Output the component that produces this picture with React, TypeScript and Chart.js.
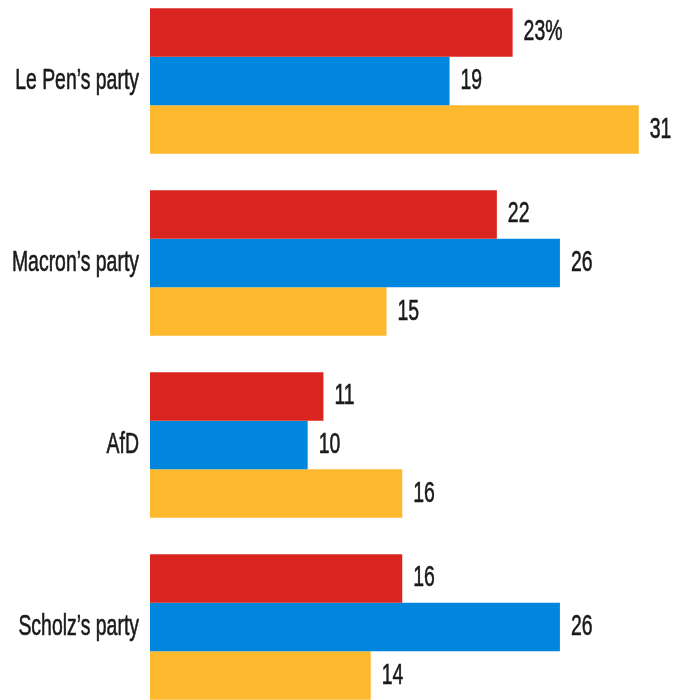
import React, { useEffect, useRef } from "react";
import { Chart, registerables } from "chart.js";

Chart.register(...registerables);

const categories = ["Le Pen\u2019s party", "Macron\u2019s party", "AfD", "Scholz\u2019s party"];
const seriesRed = [23, 22, 11, 16];
const seriesBlue = [19, 26, 10, 26];
const seriesOrange = [31, 15, 16, 14];
const firstLabelSuffix = "%";

const FONT = "'Liberation Sans', Arial, sans-serif";
const FONT_SIZE = 29;
const SQUEEZE = 0.67;
const TEXT_COLOR = "#1a1a1a";

export default function App() {
  const ref = useRef<HTMLCanvasElement | null>(null);

  useEffect(() => {
    if (!ref.current) return;
    const drawText = (ctx: any, txt: string, x: number, y: number, align: string) => {
      ctx.save();
      ctx.translate(x, y);
      ctx.scale(SQUEEZE, 1);
      ctx.textAlign = align;
      ctx.fillText(txt, 0, 0);
      ctx.strokeText(txt, 0, 0);
      ctx.restore();
    };
    const textPlugin = {
      id: "textPlugin",
      afterDatasetsDraw(chart: any) {
        const ctx = chart.ctx;
        const yScale = chart.scales.y;
        const left = chart.chartArea.left;
        ctx.save();
        ctx.font = `${FONT_SIZE}px ${FONT}`;
        ctx.fillStyle = TEXT_COLOR;
        ctx.strokeStyle = TEXT_COLOR;
        ctx.lineWidth = 0.6;
        ctx.textBaseline = "middle";
        categories.forEach((lab, i) => {
          drawText(ctx, lab, left - 11, yScale.getPixelForValue(i), "right");
        });
        chart.data.datasets.forEach((ds: any, di: number) => {
          const meta = chart.getDatasetMeta(di);
          meta.data.forEach((el: any, i: number) => {
            const v = ds.data[i];
            const txt = String(v) + (di === 0 && i === 0 ? firstLabelSuffix : "");
            drawText(ctx, txt, el.x + 11, el.y, "left");
          });
        });
        ctx.restore();
      },
    };
    const chart = new Chart(ref.current, {
      type: "bar",
      data: {
        labels: categories,
        datasets: [
          { data: seriesRed, backgroundColor: "#d9241f" },
          { data: seriesBlue, backgroundColor: "#0086dc" },
          { data: seriesOrange, backgroundColor: "#fdb92e" },
        ],
      },
      options: {
        indexAxis: "y",
        responsive: false,
        animation: false,
        devicePixelRatio: 1,
        layout: { padding: { left: 150, right: 0, top: 0, bottom: 0 } },
        datasets: { bar: { categoryPercentage: 0.8, barPercentage: 1, borderWidth: 0 } },
        plugins: { legend: { display: false }, tooltip: { enabled: false } },
        scales: {
          x: { display: false, min: 0, max: 33.3 },
          y: { display: false, offset: true },
        },
      },
      plugins: [textPlugin],
    } as any);
    return () => chart.destroy();
  }, []);

  return (
    <div
      style={{
        position: "fixed",
        left: 0,
        top: 0,
        width: 675,
        height: 700,
        overflow: "hidden",
        background: "#fff",
      }}
    >
      <canvas
        ref={ref}
        width={675}
        height={728}
        style={{ position: "absolute", left: 0, top: -10, width: 675, height: 728 }}
      />
    </div>
  );
}
